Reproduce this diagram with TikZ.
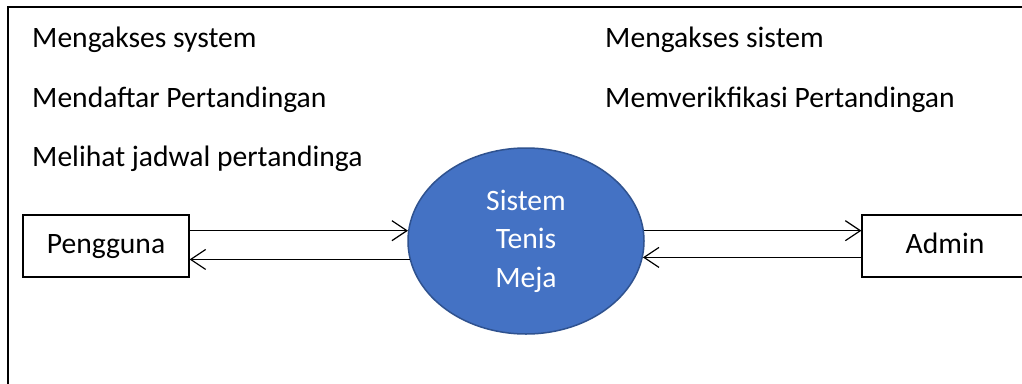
\documentclass[tikz,border=0pt]{standalone}
\usepackage{fontspec}
\setmainfont{Carlito}
\usetikzlibrary{arrows.meta,shapes.geometric}
\definecolor{sysfill}{HTML}{4472C4}
\definecolor{sysdraw}{HTML}{2F528F}
\tikzset{
  lbl/.style={anchor=base west, inner sep=0pt, font=\fontsize{29.6}{35}\selectfont},
  entity/.style={draw=black, line width=1.2pt, minimum width=166pt, minimum height=62pt, inner sep=0pt, text height=20pt, text depth=6pt, font=\fontsize{29.6}{35}\selectfont},
  flow/.style={draw=black, line width=1.2pt, -{Straight Barb[length=15pt,width=20pt,line width=1.2pt]}},
}
\begin{document}
\begin{tikzpicture}[x=1pt,y=-1pt]
\useasboundingbox (0,0) rectangle (1022,383);
\fill[white] (0,0) rectangle (1022,383);
\draw[line width=2pt] (8,390) -- (8,7) -- (1030,7);
\node[lbl] (t1) at (32,47) {Mengakses system};
\node[lbl] (t2) at (32,107) {Mendaftar Pertandingan};
\node[lbl] (t3) at (32,166) {Melihat jadwal pertandinga};
\node[lbl] (t4) at (605,47) {Mengakses sistem};
\node[lbl] (t5) at (605,107) {Memverikfikasi Pertandingan};
\node[entity] (peng) at (106,246) {Pengguna};
\node[entity] (adm) at (945,246) {Admin};
\node[ellipse, fill=sysfill, draw=sysdraw, line width=1.5pt, minimum width=236pt, minimum height=186pt, inner sep=0pt, text=white, align=center, font=\fontsize{29.6}{38.5}\selectfont] (sys) at (526,241) {Sistem\\Tenis\\Meja};
\draw[flow] (peng.east |- sys.175) -- (sys.175);
\draw[flow] (sys.189) -- (peng.east |- sys.189);
\draw[flow] (sys.5) -- (adm.west |- sys.5);
\draw[flow] (adm.west |- sys.-8.5) -- (sys.-8.5);
\end{tikzpicture}
\end{document}
